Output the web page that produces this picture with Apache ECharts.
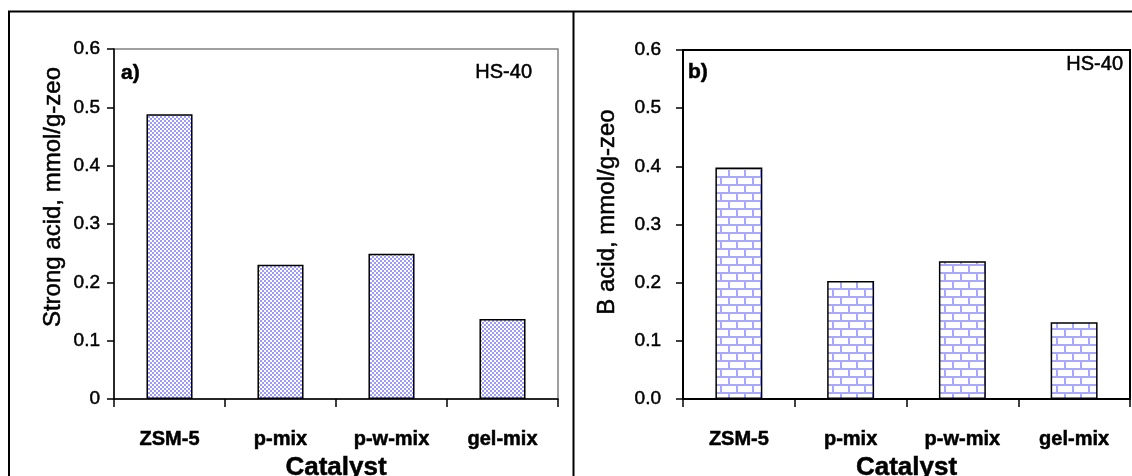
<!DOCTYPE html>
<html>
<head>
<meta charset="utf-8">
<script src="https://cdn.jsdelivr.net/npm/echarts@6/dist/echarts.min.js"></script>
<style>
  html, body { margin: 0; padding: 0; background: #fff; }
  #chart { width: 1132px; height: 476px; }
</style>
</head>
<body>
<div id="chart"></div>
<script>
// Catalysts compared in both panels
const categories = ['ZSM-5', 'p-mix', 'p-w-mix', 'gel-mix'];
// Panel a): strong acid amount, mmol/g-zeo
const strongAcid = [0.488, 0.230, 0.249, 0.137];
// Panel b): Brønsted (B) acid amount, mmol/g-zeo
const bAcid = [0.398, 0.203, 0.237, 0.132];
// Value axis ticks
const yTicks = [0, 0.1, 0.2, 0.3, 0.4, 0.5, 0.6];

const FONT = '"Liberation Sans", Arial, Helvetica, sans-serif';
// slight outline gives the text a heavier, print-like weight
const INK = { textBorderColor: '#000', textBorderWidth: 0.5 };

// Small checkerboard fill for panel a)
function checkerPattern() {
  const c = document.createElement('canvas');
  c.width = 4; c.height = 4;
  const g = c.getContext('2d');
  g.fillStyle = '#ffffff';
  g.fillRect(0, 0, 4, 4);
  g.fillStyle = '#9a9aff';
  g.fillRect(0, 0, 2, 2);
  g.fillRect(2, 2, 2, 2);
  return { image: c, repeat: 'repeat' };
}

// Brick fill for panel b)
function brickPattern() {
  const c = document.createElement('canvas');
  c.width = 16; c.height = 16;
  const g = c.getContext('2d');
  g.fillStyle = '#ffffff';
  g.fillRect(0, 0, 16, 16);
  g.fillStyle = '#a8a8ff';
  g.fillRect(0, 0, 16, 2);
  g.fillRect(0, 8, 16, 2);
  g.fillRect(0, 0, 2, 8);
  g.fillRect(8, 8, 2, 8);
  return { image: c, repeat: 'repeat' };
}

const chart = echarts.init(document.getElementById('chart'), null, { renderer: 'canvas' });

function valueAxis(gridIndex, margin, fmt) {
  return {
    type: 'value',
    gridIndex: gridIndex,
    min: yTicks[0],
    max: yTicks[yTicks.length - 1],
    interval: yTicks[1] - yTicks[0],
    axisLine: { show: true, lineStyle: { color: '#000', width: 1.5 } },
    axisTick: { show: true, inside: false, length: 7, lineStyle: { color: '#000', width: 1.5 } },
    axisLabel: Object.assign({
      margin: margin,
      color: '#000',
      fontFamily: FONT,
      fontSize: 19,
      formatter: fmt
    }, INK),
    splitLine: { show: false }
  };
}

function categoryAxis(gridIndex) {
  return {
    type: 'category',
    gridIndex: gridIndex,
    data: categories,
    boundaryGap: true,
    name: 'Catalyst',
    nameLocation: 'middle',
    nameGap: 51,
    nameTextStyle: Object.assign({ color: '#000', fontFamily: FONT, fontSize: 26, fontWeight: 'bold' }, INK),
    axisLine: { show: true, lineStyle: { color: '#000', width: 1.5 } },
    axisTick: { show: true, length: 8, interval: 0, alignWithLabel: false, lineStyle: { color: '#000', width: 1.5 } },
    axisLabel: Object.assign({
      interval: 0,
      margin: 30,
      color: '#000',
      fontFamily: FONT,
      fontSize: 20,
      fontWeight: 'bold'
    }, INK)
  };
}

function label(text, x, y, font, align, rot) {
  return {
    type: 'text', x: x, y: y, rotation: rot || 0,
    style: { text: text, fill: '#000', font: font + ' ' + FONT,
      textAlign: align, textVerticalAlign: 'middle', stroke: '#000', lineWidth: 0.5 }
  };
}

const option = {
  backgroundColor: '#ffffff',
  animation: false,
  grid: [
    { left: 114, top: 49, right: 574, bottom: 77, outerBoundsMode: 'none', containLabel: false,
      show: true, borderColor: '#808080', borderWidth: 1.5, backgroundColor: 'transparent' },
    { left: 683, top: 50, right: 2, bottom: 77, outerBoundsMode: 'none', containLabel: false,
      show: true, borderColor: '#000', borderWidth: 2, backgroundColor: 'transparent' }
  ],
  xAxis: [categoryAxis(0), categoryAxis(1)],
  yAxis: [
    valueAxis(0, 14, v => (v === 0 ? '0' : v.toFixed(1))),
    valueAxis(1, 22, v => v.toFixed(1))
  ],
  series: [
    {
      type: 'bar',
      xAxisIndex: 0,
      yAxisIndex: 0,
      data: strongAcid,
      barWidth: '41.5%',
      itemStyle: { color: checkerPattern(), borderColor: '#000', borderWidth: 1.5 }
    },
    {
      type: 'bar',
      xAxisIndex: 1,
      yAxisIndex: 1,
      data: bAcid,
      barWidth: '42%',
      itemStyle: { color: brickPattern(), borderColor: '#000', borderWidth: 1.5 }
    }
  ],
  graphic: [
    // outer frame and panel divider
    { type: 'rect', silent: true, z: 100,
      shape: { x: 9, y: 11.5, width: 1140, height: 500 },
      style: { fill: 'none', stroke: '#000', lineWidth: 2 } },
    { type: 'line', silent: true, z: 100,
      shape: { x1: 573.5, y1: 11.5, x2: 573.5, y2: 476 },
      style: { stroke: '#000', lineWidth: 2 } },
    // y axis titles
    label('Strong acid, mmol/g-zeo', 53, 197, '24px', 'center', Math.PI / 2),
    label('B acid, mmol/g-zeo', 607, 212, '24px', 'center', Math.PI / 2),
    // panel tags
    label('a)', 121, 73.5, 'bold 21px', 'left'),
    label('b)', 688, 72.5, 'bold 21px', 'left'),
    label('HS-40', 532, 72.5, '20px', 'right'),
    label('HS-40', 1123, 64.5, '20px', 'right')
  ]
};

chart.setOption(option);
</script>
</body>
</html>
